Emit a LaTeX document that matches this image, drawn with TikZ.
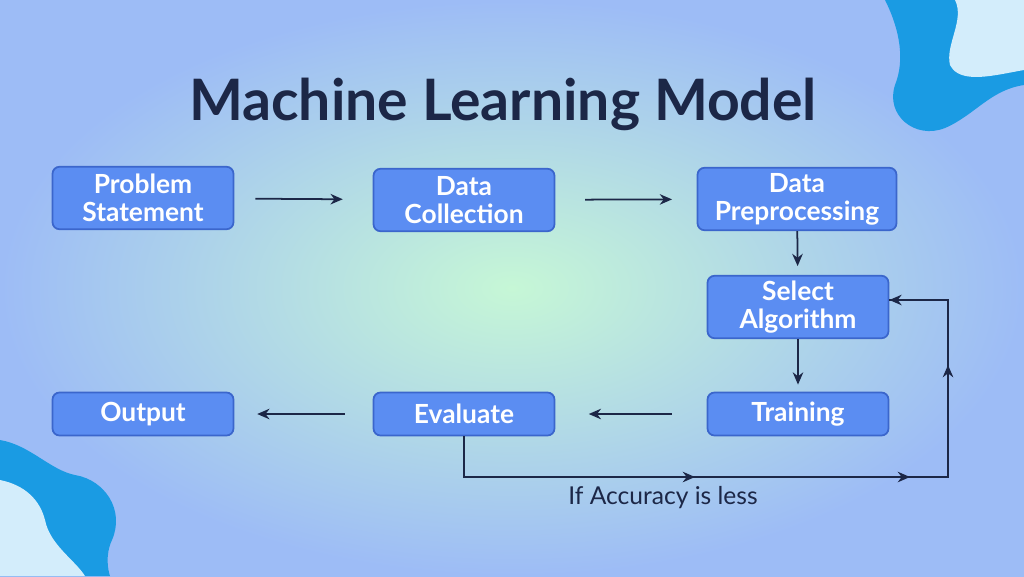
\documentclass[tikz,border=0pt]{standalone}
\usepackage{fontspec}
\setmainfont{Lato}
\usetikzlibrary{arrows.meta}
\definecolor{boxFill}{HTML}{5B8DF2}
\definecolor{boxLine}{HTML}{3B66CC}
\definecolor{navy}{HTML}{1C2747}
\definecolor{blobBlue}{HTML}{1A9BE3}
\definecolor{blobLight}{HTML}{D3EDFB}
\definecolor{bgCenter}{HTML}{C6F7D6}
\definecolor{bgOuter}{HTML}{9DBCF6}
\begin{document}
\begin{tikzpicture}[x=0.02cm,y=-0.02cm,%%
  boxStyle/.style={draw=boxLine,fill=boxFill,rounded corners=4pt,line width=1pt,
    text=white,font=\fontsize{15}{16}\selectfont\bfseries,align=center,
    minimum width=3.62cm,minimum height=1.25cm,inner sep=1pt},%%
  flowStyle/.style={-{Stealth[length=7pt,width=6pt]},navy,line width=1pt},%%
  midArrow/.style={navy,line width=1pt}%%
]
%%
%% Background and corner blobs.
\shade[inner color=bgCenter,outer color=bgOuter] (0,0) rectangle (1024,576);
\useasboundingbox (0,0) rectangle (1024,576);
\fill[blobBlue] (885,0) .. controls (900,30) and (905,60) .. (895,85)
  .. controls (885,115) and (915,140) .. (945,128)
  .. controls (975,115) and (990,90) .. (1024,85) -- (1024,0) -- cycle;
\fill[blobLight] (955,0) .. controls (965,20) and (945,45) .. (950,65)
  .. controls (960,85) and (995,75) .. (1024,70) -- (1024,0) -- cycle;
\fill[blobBlue] (0,440) .. controls (30,445) and (50,470) .. (75,475)
  .. controls (105,480) and (125,510) .. (112,540)
  .. controls (105,555) and (108,570) .. (110,576) -- (0,576) -- cycle;
\fill[blobLight] (0,480) .. controls (25,485) and (40,500) .. (45,520)
  .. controls (50,545) and (75,560) .. (85,576) -- (0,576) -- cycle;
%%
%% Title.
\node[navy,font=\fontsize{32.5}{34}\selectfont\bfseries] (title) at (503,104) {Machine Learning Model};
%%
%% Boxes.
\node[boxStyle] (problem) at (143,198) {Problem\\Statement};
\node[boxStyle] (collect) at (464,200) {Data\\Collection};
\node[boxStyle,minimum width=3.98cm] (prep) at (797,199) {Data\\Preprocessing};
\node[boxStyle] (select) at (798,307) {Select\\Algorithm};
\node[boxStyle,minimum height=0.86cm] (train) at (798,414) {Training};
\node[boxStyle,minimum height=0.86cm] (eval) at (464,414) {Evaluate};
\node[boxStyle,minimum height=0.86cm] (output) at (143,414) {Output};
%%
%% Main flow.
\draw[flowStyle,shorten <=12pt,shorten >=17pt] (problem) -- (collect);
\draw[flowStyle,shorten <=17pt,shorten >=14pt] (collect) -- (prep);
\draw[flowStyle,shorten >=5pt] (prep) -- (select);
\draw[flowStyle,shorten >=4pt] (select) -- (train);
\draw[flowStyle,shorten <=20pt,shorten >=19pt] (train) -- (eval);
\draw[flowStyle,shorten <=16pt,shorten >=13pt] (eval) -- (output);
%%
%% Feedback loop.
\coordinate (loopA) at (464,477);
\coordinate (loopB) at (948,477);
\coordinate (loopC) at (948,300);
\draw[midArrow] (eval.south) -- (loopA) -- (loopB) -- (loopC) -- (select.east |- loopC);
\draw[flowStyle] (loopA) -- (695,477);
\draw[flowStyle] (loopA) -- (910,477);
\draw[flowStyle] (loopB) -- (948,365);
\draw[flowStyle] (loopC) -- (select.east |- loopC);
\node[navy,font=\fontsize{14}{16}\selectfont] (cond) at (663,498) {If Accuracy is less};
\end{tikzpicture}
\end{document}
